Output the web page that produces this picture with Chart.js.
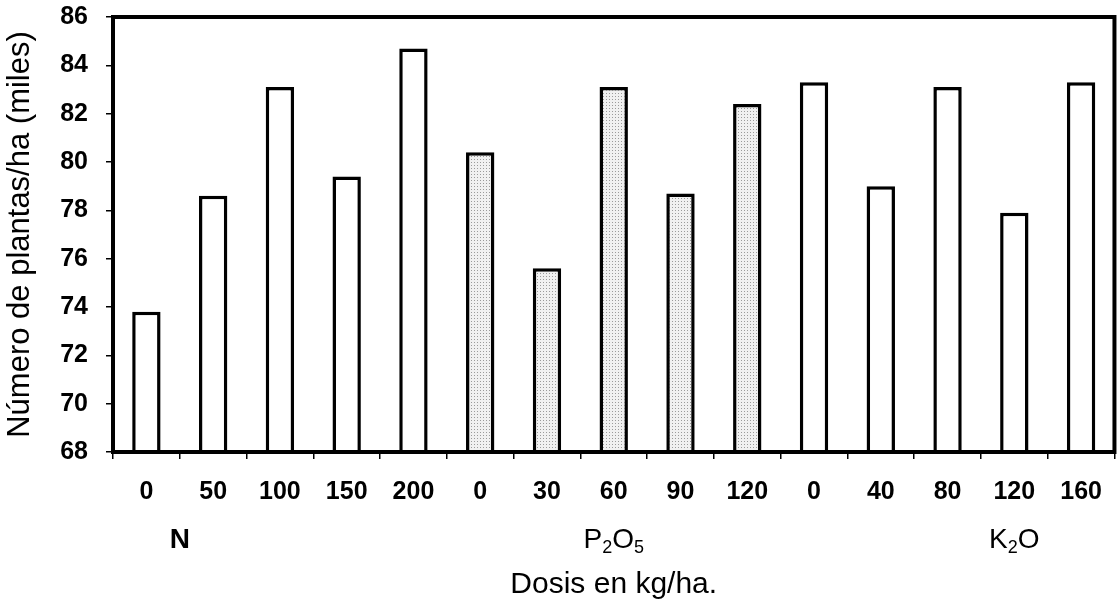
<!DOCTYPE html>
<html>
<head>
<meta charset="utf-8">
<script src="https://cdn.jsdelivr.net/npm/chart.js@4.4.1/dist/chart.umd.min.js"></script>
<style>
  html, body { margin: 0; padding: 0; background: #fff; }
  #wrap { width: 1120px; height: 603px; }
</style>
</head>
<body>
<div id="wrap"><canvas id="bars" width="1120" height="603"></canvas></div>
<script>
// dose labels (kg/ha) for each nutrient
const doses = ["0", "50", "100", "150", "200", "0", "30", "60", "90", "120", "0", "40", "80", "120", "160"];
// plants per ha (thousands)
const plantas = [73.8, 78.6, 83.1, 79.4, 84.7, 80.4, 75.6, 83.1, 78.7, 82.4, 83.3, 79.0, 83.1, 77.9, 83.3];
// nutrient for each bar
const nutriente = ["N", "N", "N", "N", "N", "P", "P", "P", "P", "P", "K", "K", "K", "K", "K"];
const yTicks = [68, 70, 72, 74, 76, 78, 80, 82, 84, 86];

// dotted fill like the scanned P2O5 bars
function dots() {
    let c = document.createElement('canvas')
    c.width = 3; c.height = 3
    let g = c.getContext('2d')
    g.fillStyle = '#f0f0f0'
    g.fillRect(0, 0, 3, 3)
    g.fillStyle = '#9a9a9a'
    g.fillRect(0, 0, 1, 1)
    return g.createPattern(c, 'repeat')
}

const font = "'Liberation Sans', Arial, sans-serif"

// frame round the plot and the nutrient group names under the ticks
const extras = {
    id: 'extras',
    afterDraw(chart) {
        let ctx = chart.ctx
        let a = chart.chartArea
        let x = chart.scales.x
        ctx.save()
        ctx.strokeStyle = '#000'
        ctx.lineWidth = 4
        ctx.strokeRect(a.left, a.top, a.right - a.left, a.bottom - a.top)

        ctx.fillStyle = '#000'
        ctx.textBaseline = 'middle'
        ctx.textAlign = 'center'
        let y = 540
        // N sits between the first two doses
        ctx.font = "bold 28px " + font
        ctx.fillText("N", (x.getPixelForValue(0) + x.getPixelForValue(1)) / 2, y)
        // chemical names with subscripts
        let formula = function (parts, cx) {
            let big = "28px " + font, small = "18px " + font
            let w = 0
            parts.forEach(p => { ctx.font = p[1] ? small : big; w += ctx.measureText(p[0]).width })
            let px = cx - w / 2
            ctx.textAlign = 'left'
            parts.forEach(p => {
                ctx.font = p[1] ? small : big
                ctx.fillText(p[0], px, p[1] ? y + 8 : y)
                px += ctx.measureText(p[0]).width
            })
        }
        formula([["P", 0], ["2", 1], ["O", 0], ["5", 1]], x.getPixelForValue(7))
        formula([["K", 0], ["2", 1], ["O", 0]], x.getPixelForValue(13))
        ctx.restore()
    }
}

window.onload = function () {
    let context = document.querySelector("#bars").getContext('2d')
    let fill = dots()
    new Chart(context, {
        type: 'bar',
        data: {
            labels: doses,
            datasets: [{
                data: plantas,
                backgroundColor: nutriente.map(n => n == "P" ? fill : '#ffffff'),
                borderColor: '#000',
                borderWidth: 3.5,
                borderSkipped: 'bottom',
                barPercentage: 0.5,
                categoryPercentage: 0.85
            }]
        },
        options: {
            responsive: false,
            animation: false,
            layout: { padding: { top: 17, right: 2, left: 2, bottom: 0 } },
            plugins: { legend: { display: false }, tooltip: { enabled: false } },
            scales: {
                x: {
                    grid: { drawOnChartArea: false, color: '#000', lineWidth: 1.5, tickLength: 7 },
                    border: { color: '#000', width: 4 },
                    ticks: { color: '#000', font: { family: font, size: 25, weight: 'bold' }, padding: 18, maxRotation: 0 },
                    title: {
                        display: true, text: 'Dosis en kg/ha.', color: '#000',
                        font: { family: font, size: 30 }, padding: { top: 42, bottom: 0 }
                    }
                },
                y: {
                    min: 68, max: 86,
                    afterBuildTicks: s => { s.ticks = yTicks.map(v => ({ value: v })) },
                    // the top label may overhang the frame, as in the original
                    afterFit: s => { s.paddingTop = 0; s.paddingBottom = 0 },
                    grid: { drawOnChartArea: false, color: '#000', lineWidth: 1.5, tickLength: 7 },
                    border: { color: '#000', width: 4 },
                    ticks: { color: '#000', font: { family: font, size: 25, weight: 'bold' }, padding: 18 },
                    title: {
                        display: true, text: 'Número de plantas/ha (miles)', color: '#000',
                        font: { family: font, size: 31 }, padding: { top: 0, bottom: 3 }
                    }
                }
            }
        },
        plugins: [extras]
    });
}
</script>
</body>
</html>
